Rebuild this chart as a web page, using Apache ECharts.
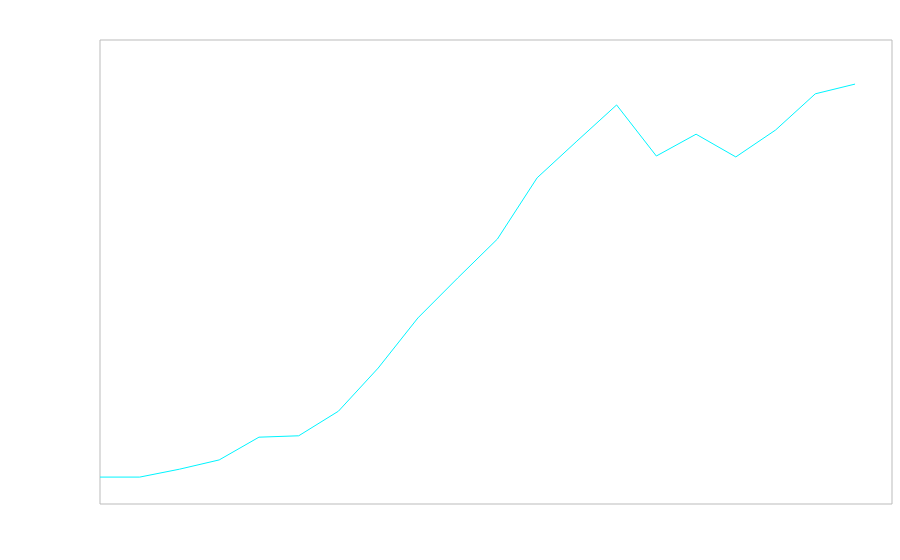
<!DOCTYPE html>
<html>
<head>
<meta charset="utf-8">
<script src="https://cdn.jsdelivr.net/npm/echarts@6/dist/echarts.min.js"></script>
<style>html,body{margin:0;padding:0;background:#fff}#c{width:900px;height:560px}</style>
</head>
<body>
<div id="c"></div>
<script>
var positions = [0,1,2,3,4,5,6,7,8,9,10,11,12,13,14,15,16,17,18,19];
var values = [5.8, 5.8, 7.5, 9.5, 14.4, 14.7, 20.0, 29.3, 40.1, 48.7, 57.1, 70.3, 78.2, 86.0, 75.0, 79.7, 74.8, 80.6, 88.4, 90.5];

var seriesData = positions.map(function (p, i) { return [p, values[i]]; });

var chart = echarts.init(document.getElementById('c'), null, {renderer: 'canvas'});
chart.setOption({
  animation: false,
  backgroundColor: '#ffffff',
  grid: {left: 100, right: 8, top: 40, bottom: 56, show: true, borderColor: '#bbbbbb', borderWidth: 1, backgroundColor: 'transparent'},
  xAxis: {
    type: 'value', min: 0, max: 19.93,
    axisLine: {show: false}, axisTick: {show: false}, axisLabel: {show: false}, splitLine: {show: false}
  },
  yAxis: {
    type: 'value', min: 0, max: 100,
    axisLine: {show: false}, axisTick: {show: false}, axisLabel: {show: false}, splitLine: {show: false}
  },
  series: [{
    type: 'line', data: seriesData, showSymbol: false, symbol: 'none',
    lineStyle: {color: '#00f5ff', width: 1}, itemStyle: {color: '#00f5ff'}
  }]
});
</script>
</body>
</html>
